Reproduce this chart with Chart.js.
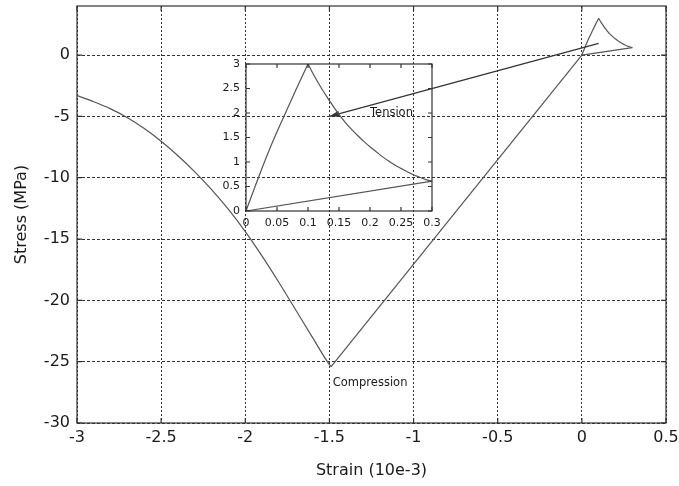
<!DOCTYPE html>
<html><head><meta charset="utf-8">
<script src="https://cdn.jsdelivr.net/npm/chart.js@4/dist/chart.umd.min.js"></script>
<style>
html,body{margin:0;padding:0;background:#fff;}
#wrap{position:relative;width:679px;height:486px;overflow:hidden;}
canvas{position:absolute;}
</style>
</head><body>
<div id="wrap">
<canvas id="main" width="679" height="486" style="left:0;top:0"></canvas>
<canvas id="inset" width="240" height="185" style="left:200px;top:55px"></canvas>
</div>
<script>
// ---- data (strain in 10e-3, stress in MPa) ----
const compressionStrain = [-3, -2.9, -2.8, -2.7, -2.6, -2.5, -2.4, -2.3, -2.2, -2.1, -2.0, -1.9, -1.8, -1.7, -1.6, -1.5, -1.49];
const compressionStress = [-3.31, -3.81, -4.39, -5.11, -5.99, -7.03, -8.21, -9.52, -10.97, -12.59, -14.39, -16.39, -18.54, -20.79, -23.04, -25.24, -25.4];
const reloadStrain = [-1.49, 0];
const reloadStress = [-25.4, 0];
const riseStrain = [0, 0.02, 0.04, 0.06, 0.08, 0.1];
const riseStress = [0, 0.68, 1.32, 1.9, 2.46, 3.0];
const decayStrain = [0.1, 0.11, 0.12, 0.13, 0.14, 0.15, 0.16, 0.17, 0.18, 0.19, 0.2, 0.21, 0.22, 0.23, 0.24, 0.25, 0.26, 0.27, 0.28, 0.29, 0.3];
const decayStress = [3.0, 2.76, 2.54, 2.34, 2.15, 1.97, 1.81, 1.67, 1.54, 1.42, 1.31, 1.21, 1.11, 1.02, 0.94, 0.87, 0.80, 0.74, 0.69, 0.64, 0.61];
const unloadStrain = [0.3, 0];
const unloadStress = [0.61, 0];

const mainXTicks = [-3, -2.5, -2, -1.5, -1, -0.5, 0, 0.5];
const mainXTickLabels = ['-3', '-2.5', '-2', '-1.5', '-1', '-0.5', '0', '0.5'];
const mainYTicks = [-30, -25, -20, -15, -10, -5, 0];
const mainYTickLabels = ['-30', '-25', '-20', '-15', '-10', '-5', '0'];
const insetXTicks = [0, 0.05, 0.1, 0.15, 0.2, 0.25, 0.3];
const insetXTickLabels = ['0', '0.05', '0.1', '0.15', '0.2', '0.25', '0.3'];
const insetYTicks = [0, 0.5, 1, 1.5, 2, 2.5, 3];
const insetYTickLabels = ['0', '0.5', '1', '1.5', '2', '2.5', '3'];

const arrowStart = [0.1, 0.95];   // main data coords
const arrowEnd = [-1.5, -5];      // main data coords
const compressionLabel = ['Compression', -1.48, -26.7];
const tensionLabel = ['Tension', 0.2, 2.0]; // inset data coords

// ---- build datasets ----
const toPts = (xs, ys) => xs.map((x, i) => ({x: x, y: ys[i]}));
const FONT = 'DejaVu Sans';
const TXT = '#1a1a1a';
const LINE = '#555';
const ds = (xs, ys, smooth) => ({
  data: toPts(xs, ys), showLine: true, borderColor: LINE, borderWidth: 1.2,
  pointRadius: 0, fill: false, tension: 0,
  cubicInterpolationMode: smooth ? 'monotone' : 'default'
});
const tensionSets = () => [
  ds(riseStrain, riseStress, true),
  ds(decayStrain, decayStress, true),
  ds(unloadStrain, unloadStress, false)
];

const fixedTicks = vals => scale => { scale.ticks = vals.map(v => ({value: v})); };
const labelFor = (vals, labels) => v => { const i = vals.indexOf(v); return i >= 0 ? labels[i] : ''; };
const fitW = w => s => { s.width = w; s.paddingTop = 0; s.paddingBottom = 0; };
const fitH = h => s => { s.height = h; s.paddingLeft = 0; s.paddingRight = 0; };

const boxPlugin = {
  id: 'box',
  afterDatasetsDraw(chart, args, o) {
    const {ctx, chartArea: a, scales: {x, y}} = chart;
    ctx.save();
    ctx.setLineDash([]);
    ctx.strokeStyle = o.color;
    ctx.lineWidth = o.width;
    ctx.beginPath();
    x.ticks.forEach(t => {
      const px = x.getPixelForValue(t.value);
      ctx.moveTo(px, a.bottom); ctx.lineTo(px, a.bottom - o.tick);
      ctx.moveTo(px, a.top); ctx.lineTo(px, a.top + o.tick);
    });
    y.ticks.forEach(t => {
      const py = y.getPixelForValue(t.value);
      ctx.moveTo(a.left, py); ctx.lineTo(a.left + o.tick, py);
      ctx.moveTo(a.right, py); ctx.lineTo(a.right - o.tick, py);
    });
    ctx.stroke();
    ctx.strokeRect(a.left, a.top, a.right - a.left, a.bottom - a.top);
    ctx.restore();
  }
};

const annotPlugin = {
  id: 'annot',
  afterDatasetsDraw(chart, args, o) {
    const {ctx, scales: {x, y}} = chart;
    ctx.save();
    if (o.arrow) {
      const x1 = x.getPixelForValue(o.arrow[0][0]), y1 = y.getPixelForValue(o.arrow[0][1]);
      const x2 = x.getPixelForValue(o.arrow[1][0]), y2 = y.getPixelForValue(o.arrow[1][1]);
      ctx.strokeStyle = '#333';
      ctx.fillStyle = '#333';
      ctx.lineWidth = 1.2;
      ctx.beginPath(); ctx.moveTo(x1, y1); ctx.lineTo(x2, y2); ctx.stroke();
      const ang = Math.atan2(y2 - y1, x2 - x1);
      const L = 10, W = 3;
      const bx = x2 - L * Math.cos(ang), by = y2 - L * Math.sin(ang);
      ctx.beginPath();
      ctx.moveTo(x2, y2);
      ctx.lineTo(bx + W * Math.sin(ang), by - W * Math.cos(ang));
      ctx.lineTo(bx - W * Math.sin(ang), by + W * Math.cos(ang));
      ctx.closePath(); ctx.fill();
    }
    if (o.label) {
      ctx.font = '11.5px "' + FONT + '"';
      ctx.fillStyle = TXT;
      ctx.textAlign = 'left';
      ctx.textBaseline = 'middle';
      ctx.fillText(o.label[0], x.getPixelForValue(o.label[1]), y.getPixelForValue(o.label[2]));
    }
    ctx.restore();
  }
};

new Chart(document.getElementById('main'), {
  type: 'scatter',
  data: {datasets: [ds(compressionStrain, compressionStress, true), ds(reloadStrain, reloadStress, false)].concat(tensionSets())},
  options: {
    responsive: false, animation: false, devicePixelRatio: 1,
    layout: {padding: {top: 6, right: 13, left: 0, bottom: 0}},
    plugins: {
      legend: {display: false}, tooltip: {enabled: false},
      box: {color: '#333', width: 1.2, tick: 5},
      annot: {arrow: [arrowStart, arrowEnd], label: compressionLabel}
    },
    scales: {
      x: {
        type: 'linear', min: -3, max: 0.5,
        afterBuildTicks: fixedTicks(mainXTicks),
        afterFit: fitH(63),
        ticks: {callback: labelFor(mainXTicks, mainXTickLabels), font: {family: FONT, size: 16}, color: TXT, padding: 5, maxRotation: 0, autoSkip: false},
        grid: {color: '#333', lineWidth: 1, drawTicks: false},
        border: {display: false, dash: [2, 2]},
        title: {display: true, text: 'Strain (10e-3)', font: {family: FONT, size: 16}, color: TXT, padding: {top: 0, bottom: 6}}
      },
      y: {
        type: 'linear', min: -30, max: 4,
        afterBuildTicks: fixedTicks(mainYTicks),
        afterFit: fitW(77),
        ticks: {callback: labelFor(mainYTicks, mainYTickLabels), font: {family: FONT, size: 16}, color: TXT, padding: 7, autoSkip: false},
        grid: {color: '#333', lineWidth: 1, drawTicks: false},
        border: {display: false, dash: [3, 2]},
        title: {display: true, text: 'Stress (MPa)', font: {family: FONT, size: 16}, color: TXT, padding: {top: 12, bottom: 0}}
      }
    }
  },
  plugins: [boxPlugin, annotPlugin]
});

new Chart(document.getElementById('inset'), {
  type: 'scatter',
  data: {datasets: tensionSets()},
  options: {
    responsive: false, animation: false, devicePixelRatio: 1,
    layout: {padding: {top: 9, right: 8, left: 0, bottom: 0}},
    plugins: {
      legend: {display: false}, tooltip: {enabled: false},
      box: {color: '#333', width: 1.2, tick: 4},
      annot: {label: tensionLabel}
    },
    scales: {
      x: {
        type: 'linear', min: 0, max: 0.3,
        afterBuildTicks: fixedTicks(insetXTicks),
        afterFit: fitH(29),
        ticks: {callback: labelFor(insetXTicks, insetXTickLabels), font: {family: FONT, size: 11}, color: TXT, padding: 6, maxRotation: 0, autoSkip: false},
        grid: {display: false, drawTicks: false},
        border: {display: false}
      },
      y: {
        type: 'linear', min: 0, max: 3,
        afterBuildTicks: fixedTicks(insetYTicks),
        afterFit: fitW(46),
        ticks: {callback: labelFor(insetYTicks, insetYTickLabels), font: {family: FONT, size: 11}, color: TXT, padding: 6, autoSkip: false},
        grid: {display: false, drawTicks: false},
        border: {display: false}
      }
    }
  },
  plugins: [boxPlugin, annotPlugin]
});
</script>
</body></html>
